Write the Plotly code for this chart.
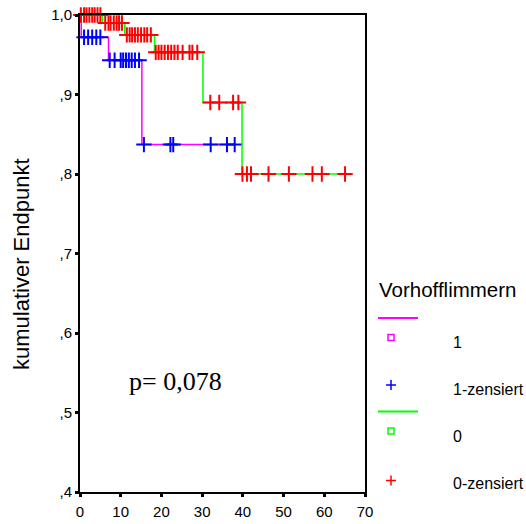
import numpy as np
import plotly.graph_objects as go

# ---- data ----
# group "1" (Vorhofflimmern = 1): step curve and censored times
g1_times = [0.0, 0.3, 7.0, 15.2, 38.0]
g1_surv = [1.0, 0.972, 0.943, 0.837, 0.837]
g1_cens = [1.0, 2.0, 3.0, 4.0, 5.0,
           7.3, 8.5, 10.0, 10.6, 11.3, 12.0, 12.7, 13.5, 14.5,
           15.7, 22.2, 22.9, 32.1, 36.1, 38.0]

# group "0"
g0_times = [0.0, 5.5, 11.0, 18.3, 30.2, 39.8, 65.1]
g0_surv = [1.0, 0.99, 0.975, 0.953, 0.89, 0.80, 0.80]
g0_cens = [0.2, 1.0, 1.6, 2.3, 3.0, 3.6, 4.3, 5.0,
           6.2, 7.0, 7.5, 8.3, 9.0, 9.6, 10.3,
           11.5, 12.2, 12.8, 13.5, 14.2, 15.0, 15.8, 16.5, 17.4,
           18.6, 19.3, 20.0, 20.8, 21.6, 22.4, 23.2, 24.0, 25.2, 26.9, 27.6, 28.8,
           32.0, 34.2, 37.6, 38.9,
           39.9, 41.0, 42.0, 46.3, 51.3, 57.1, 59.4, 65.1]

x_ticks = [0, 10, 20, 30, 40, 50, 60, 70]
y_ticks = [0.4, 0.5, 0.6, 0.7, 0.8, 0.9, 1.0]
y_ticktext = [",4", ",5", ",6", ",7", ",8", ",9", "1,0"]

legend_title = "Vorhofflimmern"
legend_labels = ["1", "1-zensiert", "0", "0-zensiert"]
p_text = "p= 0,078"
y_title = "kumulativer Endpunkt"

MAG, BLUE, GREEN, RED = "#FF00FF", "#0000FF", "#00FF00", "#FF0000"


def step_value(times, surv, t):
    idx = np.searchsorted(np.array(times), np.array(t), side="right") - 1
    return list(np.array(surv)[idx])


fig = go.Figure()
fig.add_trace(go.Scatter(x=g1_times, y=g1_surv, mode="lines", line=dict(shape="hv", color=MAG, width=1.5),
                         cliponaxis=False, showlegend=False))
fig.add_trace(go.Scatter(x=g1_cens, y=step_value(g1_times, g1_surv, g1_cens), mode="markers",
                         marker=dict(symbol="cross-thin", size=11, line=dict(color=BLUE, width=2)),
                         cliponaxis=False, showlegend=False))
fig.add_trace(go.Scatter(x=g0_times, y=g0_surv, mode="lines", line=dict(shape="hv", color=GREEN, width=1.5),
                         cliponaxis=False, showlegend=False))
fig.add_trace(go.Scatter(x=g0_cens, y=step_value(g0_times, g0_surv, g0_cens), mode="markers",
                         marker=dict(symbol="cross-thin", size=11, line=dict(color=RED, width=2)),
                         cliponaxis=False, showlegend=False))

L, R, T, B = 80, 161, 15, 32
W, H = 526, 524
PW, PH = W - L - R, H - T - B


def px(x):
    return (x - L) / PW


def py(y):
    return (H - B - y) / PH


shapes = []
ann = []
# legend title
ann.append(dict(x=px(377), y=py(289), xref="paper", yref="paper", text=legend_title, showarrow=False,
                xanchor="left", yanchor="middle", font=dict(family="Liberation Sans, Arial", size=20.5, color="black")))
# legend lines
for yy, col in [(318, MAG), (411.5, GREEN)]:
    shapes.append(dict(type="line", xref="paper", yref="paper", x0=px(378), x1=px(418), y0=py(yy), y1=py(yy),
                       line=dict(color=col, width=2)))
# legend squares
for yy, col in [(337.5, MAG), (431, GREEN)]:
    shapes.append(dict(type="rect", xref="paper", yref="paper", x0=px(388), x1=px(394), y0=py(yy - 3), y1=py(yy + 3),
                       line=dict(color=col, width=1.5)))
# legend crosses
for yy, col in [(385, BLUE), (480.5, RED)]:
    shapes.append(dict(type="line", xref="paper", yref="paper", x0=px(386), x1=px(396), y0=py(yy), y1=py(yy),
                       line=dict(color=col, width=1.5)))
    shapes.append(dict(type="line", xref="paper", yref="paper", x0=px(391), x1=px(391), y0=py(yy - 5), y1=py(yy + 5),
                       line=dict(color=col, width=1.5)))
for yy, lab in zip([342.5, 389, 436, 483], legend_labels):
    ann.append(dict(x=px(451), y=py(yy), xref="paper", yref="paper", text=lab, showarrow=False,
                    xanchor="left", yanchor="middle", font=dict(family="Liberation Sans, Arial", size=16, color="black")))
# p-value
ann.append(dict(x=px(175), y=py(381), xref="paper", yref="paper", text=p_text, showarrow=False,
                xanchor="center", yanchor="middle", font=dict(family="Liberation Serif, Times New Roman", size=26, color="black")))
# y title
ann.append(dict(x=px(21), y=py(264), xref="paper", yref="paper", text=y_title, showarrow=False, textangle=-90,
                xanchor="center", yanchor="middle", font=dict(family="Liberation Sans, Arial", size=22, color="black")))

fig.update_layout(
    width=W, height=H,
    margin=dict(l=L, r=R, t=T, b=B, pad=0, autoexpand=False),
    paper_bgcolor="white", plot_bgcolor="white",
    shapes=shapes, annotations=ann,
    showlegend=False,
    font=dict(family="Liberation Sans, Arial", color="black"),
)
fig.update_xaxes(range=[0, 70], tickvals=x_ticks, ticks="outside", ticklen=3, tickwidth=3, tickcolor="black",
                 showline=True, linecolor="black", linewidth=2, mirror=True, showgrid=False, zeroline=False,
                 tickfont=dict(size=15), ticklabelstandoff=2, automargin=False, fixedrange=True)
fig.update_yaxes(range=[0.4, 1.0], tickvals=y_ticks, ticktext=y_ticktext, ticks="outside", ticklen=3, tickwidth=3,
                 tickcolor="black", showline=True, linecolor="black", linewidth=2, mirror=True, showgrid=False,
                 zeroline=False, tickfont=dict(size=15), automargin=False, fixedrange=True)

fig.write_html("out.html")
